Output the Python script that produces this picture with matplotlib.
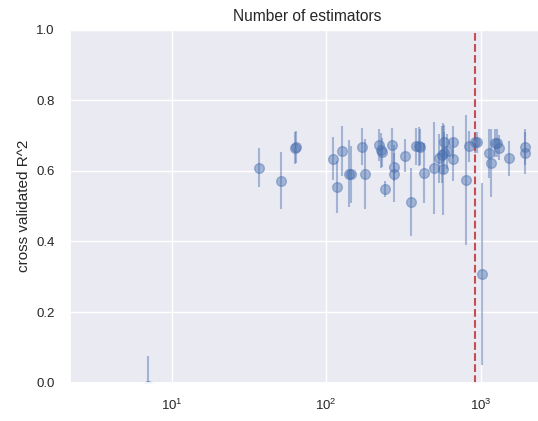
import numpy as np
import matplotlib
matplotlib.use("Agg")
import matplotlib.pyplot as plt
import seaborn as sns

sns.set_theme(style="darkgrid")
plt.rcParams['font.family'] = ['Liberation Sans', 'DejaVu Sans']
plt.rcParams['mathtext.fontset'] = 'custom'
plt.rcParams['mathtext.rm'] = 'Liberation Sans'
plt.rcParams['mathtext.it'] = 'Liberation Sans:italic'
plt.rcParams['mathtext.bf'] = 'Liberation Sans:bold'

# number of estimators tried
n_estimators = [7, 37, 51, 63, 64, 110, 117, 126, 141, 145, 170, 178, 220, 226, 231,
                240, 268, 273, 275, 324, 354, 381, 399, 407, 432, 499, 540, 560,
                568, 579, 579, 603, 665, 665, 800, 840, 918, 942, 1019, 1132, 1161,
                1238, 1270, 1320, 1524, 1936, 1936]
# mean cross validated R^2
cv_mean = [-0.01, 0.609, 0.572, 0.665, 0.667, 0.634, 0.554, 0.657, 0.592, 0.590,
           0.668, 0.591, 0.674, 0.658, 0.652, 0.549, 0.672, 0.611, 0.592, 0.643,
           0.512, 0.669, 0.669, 0.667, 0.594, 0.608, 0.635, 0.646, 0.605, 0.651,
           0.681, 0.655, 0.681, 0.632, 0.575, 0.669, 0.681, 0.681, 0.308, 0.649,
           0.622, 0.679, 0.679, 0.665, 0.635, 0.667, 0.651]
# standard deviation of cross validated R^2
cv_std = [0.085, 0.055, 0.08, 0.045, 0.045, 0.061, 0.074, 0.071, 0.095, 0.08,
          0.053, 0.1, 0.045, 0.05, 0.04, 0.022, 0.05, 0.04, 0.08, 0.046,
          0.096, 0.052, 0.055, 0.05, 0.085, 0.13, 0.07, 0.08, 0.13, 0.06,
          0.05, 0.05, 0.045, 0.06, 0.184, 0.045, 0.03, 0.03, 0.257, 0.07,
          0.095, 0.04, 0.04, 0.035, 0.05, 0.05, 0.06]
best_n_estimators = 924

fig = plt.figure(figsize=(5.38, 4.21), dpi=100)
ax = fig.add_axes([70/538, 38.3/421, 474/538, 353.2/421])

ax.errorbar(n_estimators, cv_mean, yerr=cv_std, fmt='o', color='b',
            alpha=0.45, markersize=7, elinewidth=1.5, capsize=0)
ax.axvline(best_n_estimators, color='r', linestyle='--', linewidth=1.5)

ax.set_xscale('log')
ax.set_xlim(2.2, 2570)
ax.set_ylim(0, 1.0)
ax.set_yticks([0.0, 0.2, 0.4, 0.6, 0.8, 1.0])
ax.grid(which='minor', visible=False)
ax.tick_params(axis='both', which='major', labelsize=9.5, pad=11, length=0)
ax.tick_params(axis='both', which='minor', length=0)
ax.set_ylabel('cross validated R^2', fontsize=11, labelpad=4)
ax.set_title('Number of estimators', fontsize=11.2, pad=6)

fig.savefig('out.png', dpi=100)
